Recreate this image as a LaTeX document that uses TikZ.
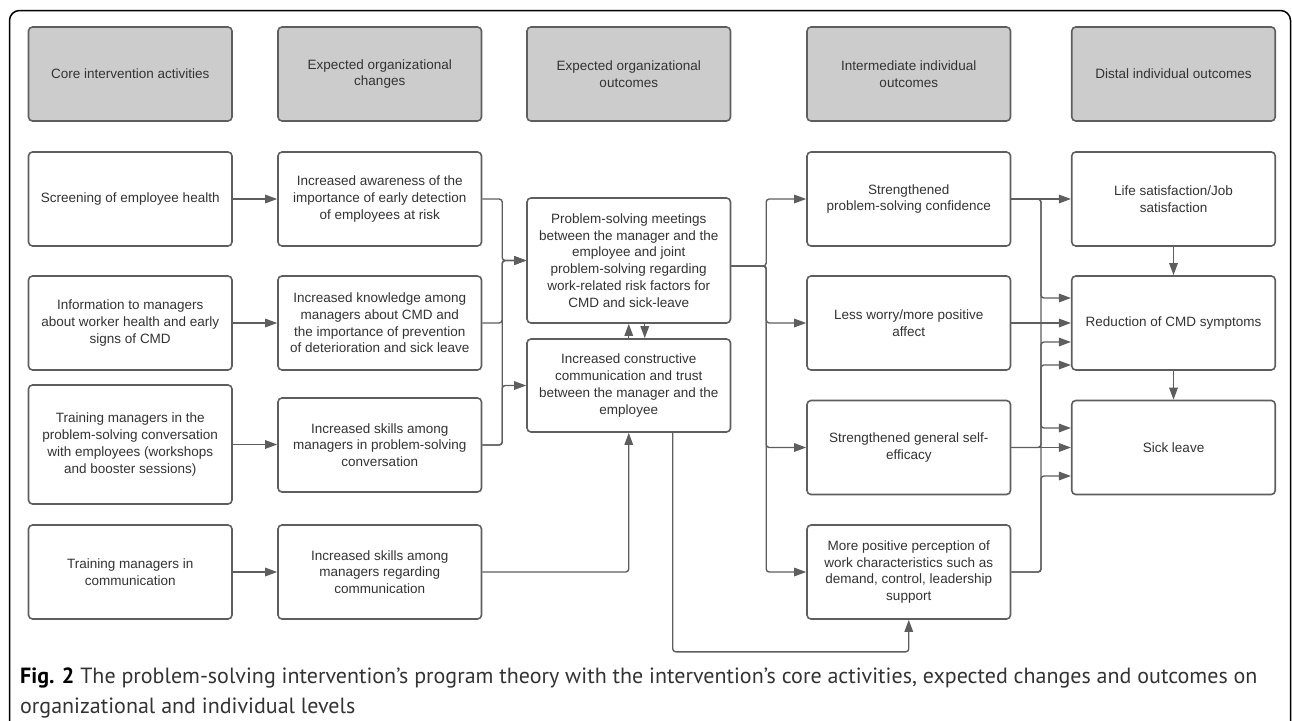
\documentclass[tikz,border=0pt]{standalone}
\usepackage{fontspec}
\setmainfont{Liberation Sans}
\newfontfamily\capfont{PT Sans}
\usetikzlibrary{arrows.meta,calc}
\definecolor{bordc}{HTML}{5E5E5E}
\definecolor{linec}{HTML}{5E5E5E}
\definecolor{txtc}{HTML}{333333}
\definecolor{hdrfill}{HTML}{CCCCCC}
\begin{document}
\begin{tikzpicture}[x=1pt,y=-1pt,
  box/.style={draw=bordc, line width=1.6pt, rounded corners=4pt, fill=white,
    minimum width=203.5pt, minimum height=94pt, align=center, inner sep=0pt,
    font=\fontsize{13.5}{16.7}\selectfont, text=txtc},
  hdr/.style={box, fill=hdrfill},
  conn/.style={draw=linec, line width=1.4pt, rounded corners=3pt,
    -{Triangle[length=12pt,width=8.5pt]}},
  captxt/.style={anchor=base west, inner sep=0pt, text=txtc,
    font=\capfont\fontsize{22}{33}\selectfont}
]
\useasboundingbox (0,0) rectangle (1292,720);
\begin{scope}
\clip (0,0) rectangle (1292,720);
\draw[black, line width=1.5pt, rounded corners=10pt] (9.5,760) -- (9.5,10.5) -- (1290.5,10.5) -- (1290.5,760);
\end{scope}

% headers
\node[hdr] (h1) at (130.25,74) {Core intervention activities};
\node[hdr] (h2) at (379.75,74) {Expected organizational\\changes};
\node[hdr] (h3) at (628.75,74) {Expected organizational\\outcomes};
\node[hdr] (h4) at (908.75,74) {Intermediate individual\\outcomes};
\node[hdr] (h5) at (1173.5,74) {Distal individual outcomes};

% column 1
\node[box] (s1) at (130.25,199) {Screening of employee health};
\node[box] (s2) at (130.25,323) {Information to managers\\about worker health and early\\signs of CMD};
\node[box, minimum height=119pt] (s3) at (130.25,444.5) {Training managers in the\\problem-solving conversation\\with employees (workshops\\and booster sessions)};
\node[box] (s4) at (130.25,572) {Training managers in\\communication};

% column 2
\node[box] (a1) at (379.75,199) {Increased awareness of the\\importance of early detection\\of employees at risk};
\node[box] (a2) at (379.75,323) {Increased knowledge among\\managers about CMD and\\the importance of prevention\\of deterioration and sick leave};
\node[box] (a3) at (379.75,445) {Increased skills among\\managers in problem-solving\\conversation};
\node[box] (a4) at (379.75,572) {Increased skills among\\managers regarding\\communication};

% column 3
\node[box, minimum height=125pt] (ps) at (628.75,260.5) {Problem-solving meetings\\between the manager and the\\employee and joint\\problem-solving regarding\\work-related risk factors for\\CMD and sick-leave};
\node[box, minimum height=93pt] (cc) at (628.75,385.5) {Increased constructive\\communication and trust\\between the manager and the\\employee};

% column 4
\node[box] (i1) at (908.75,199) {Strengthened\\problem-solving confidence};
\node[box] (i2) at (908.75,323) {Less worry/more positive\\affect};
\node[box] (i3) at (908.75,447.5) {Strengthened general self-\\efficacy};
\node[box] (i4) at (908.75,572) {More positive perception of\\work characteristics such as\\demand, control, leadership\\support};

% column 5
\node[box] (d1) at (1173.5,199) {Life satisfaction/Job\\satisfaction};
\node[box] (d2) at (1173.5,323) {Reduction of CMD symptoms};
\node[box] (d3) at (1173.5,447.5) {Sick leave};

% column 1 -> column 2
\draw[conn] (s1.east) -- (a1.west);
\draw[conn] (s2.east) -- (a2.west);
\draw[conn] (s3.east) -- (s3.east -| a3.west);
\draw[conn] (s4.east) -- (a4.west);

% column 2 -> column 3
\draw[conn] (a1.east) -| ($(ps.west)+(-24,0)$) -- (ps.west);
\draw[conn] (a2.east) -| ($(ps.west)+(-24,0)$) -- (ps.west);
\draw[conn] (a3.east) -| ($(ps.west)+(-24,0)$) -- (ps.west);
\draw[conn] (a3.east) -| ($(cc.west)+(-24,0)$) -- (cc.west);
\draw[conn] (a4.east) -| (cc.south);

% between ps and cc
\draw[conn] (cc.north) -- (ps.south);
\draw[conn] ($(ps.south)+(16,0)$) -- ($(cc.north)+(16,0)$);

% ps -> column 4
\coordinate (pse) at ($(ps.east)+(0,5.5)$);
\draw[conn] (pse) -| ($(i1.west)+(-40,0)$) -- (i1.west);
\draw[conn] (pse) -| ($(i2.west)+(-40,0)$) -- (i2.west);
\draw[conn] (pse) -| ($(i3.west)+(-40,0)$) -- (i3.west);
\draw[conn] (pse) -| ($(i4.west)+(-40,0)$) -- (i4.west);

% cc -> i4 loop
\coordinate (ccs) at ($(cc.south)+(44,0)$);
\draw[conn] (ccs) -- ++(0,219) -| (i4.south);

% column 4 -> column 5
\draw[conn] (i1.east) -- (d1.west);
\draw[conn] (i1.east) -| ($(d2.west)+(-30,-25)$) -- ($(d2.west)+(0,-25)$);
\draw[conn] (i2.east) -- (d2.west);
\draw[conn] (i3.east) -| ($(d2.west)+(-30,19)$) -- ($(d2.west)+(0,19)$);
\draw[conn] (i4.east) -| ($(d2.west)+(-30,42)$) -- ($(d2.west)+(0,42)$);
\draw[conn] (i1.east) -| ($(d3.west)+(-30,-19.5)$) -- ($(d3.west)+(0,-19.5)$);
\draw[conn] (i3.east) -- (d3.west);
\draw[conn] (i4.east) -| ($(d3.west)+(-30,28.5)$) -- ($(d3.west)+(0,28.5)$);

% column 5 chain
\draw[conn] (d1.south) -- (d2.north);
\draw[conn] (d2.south) -- (d3.north);

% caption
\node[captxt] (cap1) at (20,683) {\textbf{\color{black}Fig. 2} The problem-solving intervention’s program theory with the intervention’s core activities, expected changes and outcomes on};
\node[captxt] (cap2) at (20,713) {organizational and individual levels};
\end{tikzpicture}
\end{document}
